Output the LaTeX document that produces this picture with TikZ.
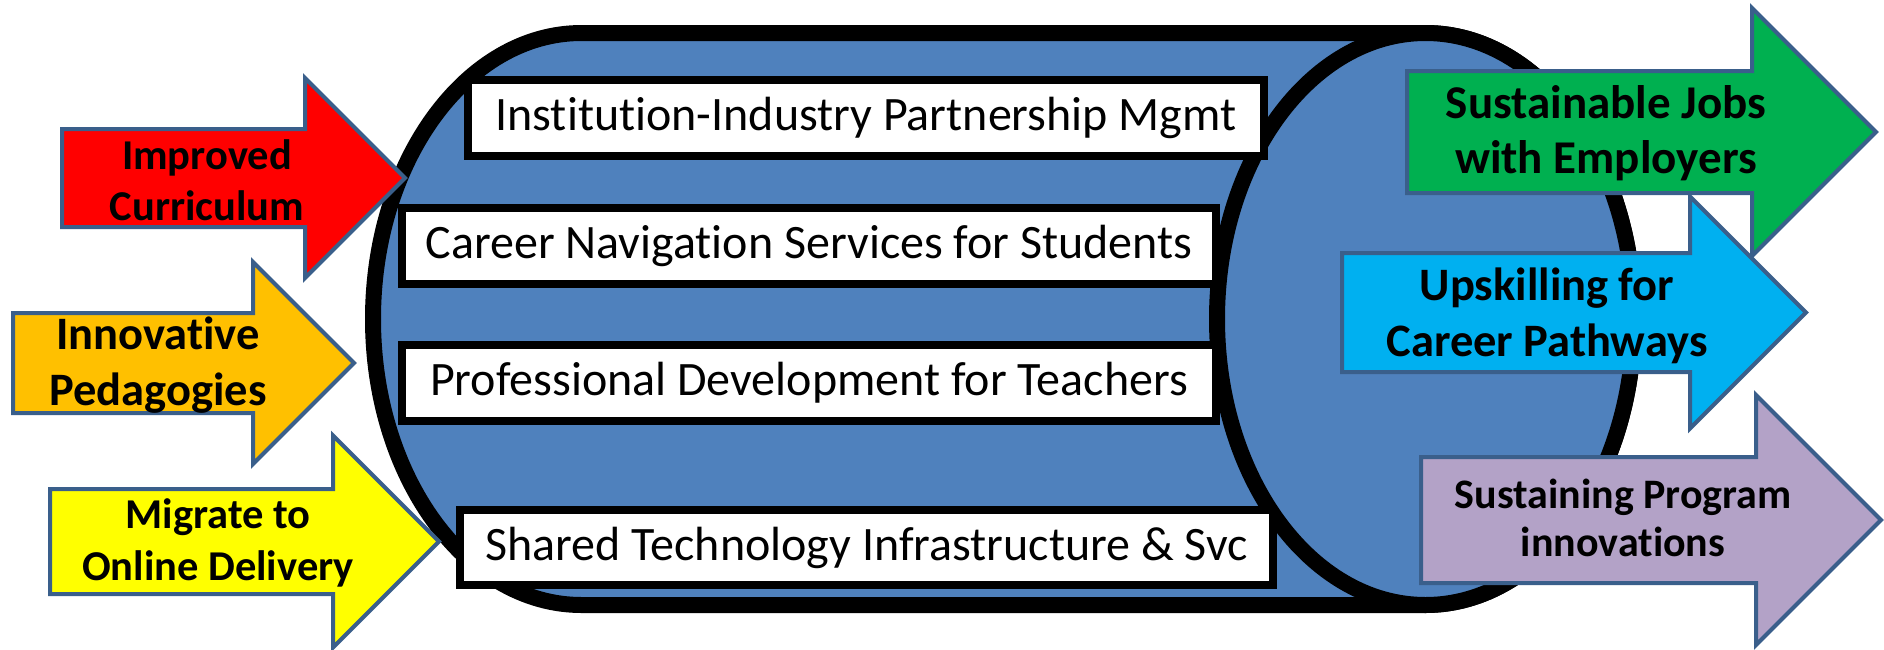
\documentclass[tikz,border=0pt]{standalone}
\usepackage{fontspec}
\setmainfont{Carlito}[Ligatures={NoCommon}]
\definecolor{cylblue}{HTML}{4F81BD}
\definecolor{arrline}{HTML}{3A5F8B}
\definecolor{aorange}{HTML}{FFC000}
\definecolor{ayellow}{HTML}{FFFF00}
\definecolor{agreen}{HTML}{00B050}
\definecolor{acyan}{HTML}{00B0F0}
\definecolor{apurple}{HTML}{B3A2C7}
\newcommand\blockarrow[6]{%
  \filldraw[arrowshape, fill=#6] (#1,{#2-#3}) -- (#4,{#2-#3}) -- (#4,{#2-#5}) -- ({#4+#5},#2) -- (#4,{#2+#5}) -- (#4,{#2+#3}) -- (#1,{#2+#3}) -- cycle;}
\begin{document}
\begin{tikzpicture}[x=1pt,y=-1pt,
  arrowshape/.style={draw=arrline, line width=4, line join=miter},
  cylline/.style={draw=black, line width=16, fill=cylblue},
  boxnode/.style={draw=black, line width=8, fill=white, inner sep=0pt, font=\fontsize{48}{58}\selectfont},
  arrtext/.style={align=center, text=black, inner sep=0pt}]
\useasboundingbox (0,0) rectangle (1884,649);
\fill[white] (0,0) rectangle (1884,649);
% shadow
\fill[black!12] (581.5,39) -- (1425.5,39) arc[start angle=-90, end angle=90, x radius=208.5, y radius=286] -- (581.5,611) arc[start angle=90, end angle=270, x radius=208.5, y radius=286] -- cycle;
% cylinder body
\filldraw[cylline] (581.5,33) -- (1425.5,33) arc[start angle=-90, end angle=90, x radius=208.5, y radius=286] -- (581.5,605) arc[start angle=90, end angle=270, x radius=208.5, y radius=286] -- cycle;
% front face
\filldraw[cylline] (1425.5,319) ellipse [x radius=208.5, y radius=286];
% boxes
\node[boxnode, minimum width=796, minimum height=76] (b1) at (866,118) {Institution-Industry Partnership Mgmt};
\node[boxnode, minimum width=814, minimum height=76] (b2) at (809,246) {Career Navigation Services for Students};
\node[boxnode, minimum width=814, minimum height=76] (b3) at (809,383) {Professional Development for Teachers};
\node[boxnode, minimum width=813, minimum height=75] (b4) at (866.5,547.5) {Shared Technology Infrastructure \& Svc};
% left arrows
\blockarrow{62}{178}{49}{305}{100}{red}
\blockarrow{13}{363}{50}{253}{101}{aorange}
\blockarrow{50}{541.5}{52.5}{333}{106}{ayellow}
\node[arrtext, font=\bfseries\fontsize{42.5}{51}\selectfont] (l1) at (207,180) {Improved\\Curriculum};
\node[arrtext, font=\bfseries\fontsize{46.5}{56}\selectfont] (l2) at (158,365) {Innovative\\Pedagogies};
\node[arrtext, font=\bfseries\fontsize{42.5}{52}\selectfont] (l3) at (218,543) {Migrate to\\Online Delivery};
% right arrows
\blockarrow{1407}{132}{61}{1752}{124}{agreen}
\blockarrow{1342}{312.5}{59.5}{1690}{116}{acyan}
\blockarrow{1421}{520}{63}{1756}{125}{apurple}
\node[arrtext, font=\bfseries\fontsize{47}{54.5}\selectfont] (r1) at (1606,133) {Sustainable Jobs\\with Employers};
\node[arrtext, font=\bfseries\fontsize{46.5}{55.5}\selectfont] (r2) at (1547,316) {Upskilling for\\Career Pathways};
\node[arrtext, font=\bfseries\fontsize{42}{48.5}\selectfont] (r3) at (1623,518) {Sustaining Program\\innovations};
\end{tikzpicture}
\end{document}
